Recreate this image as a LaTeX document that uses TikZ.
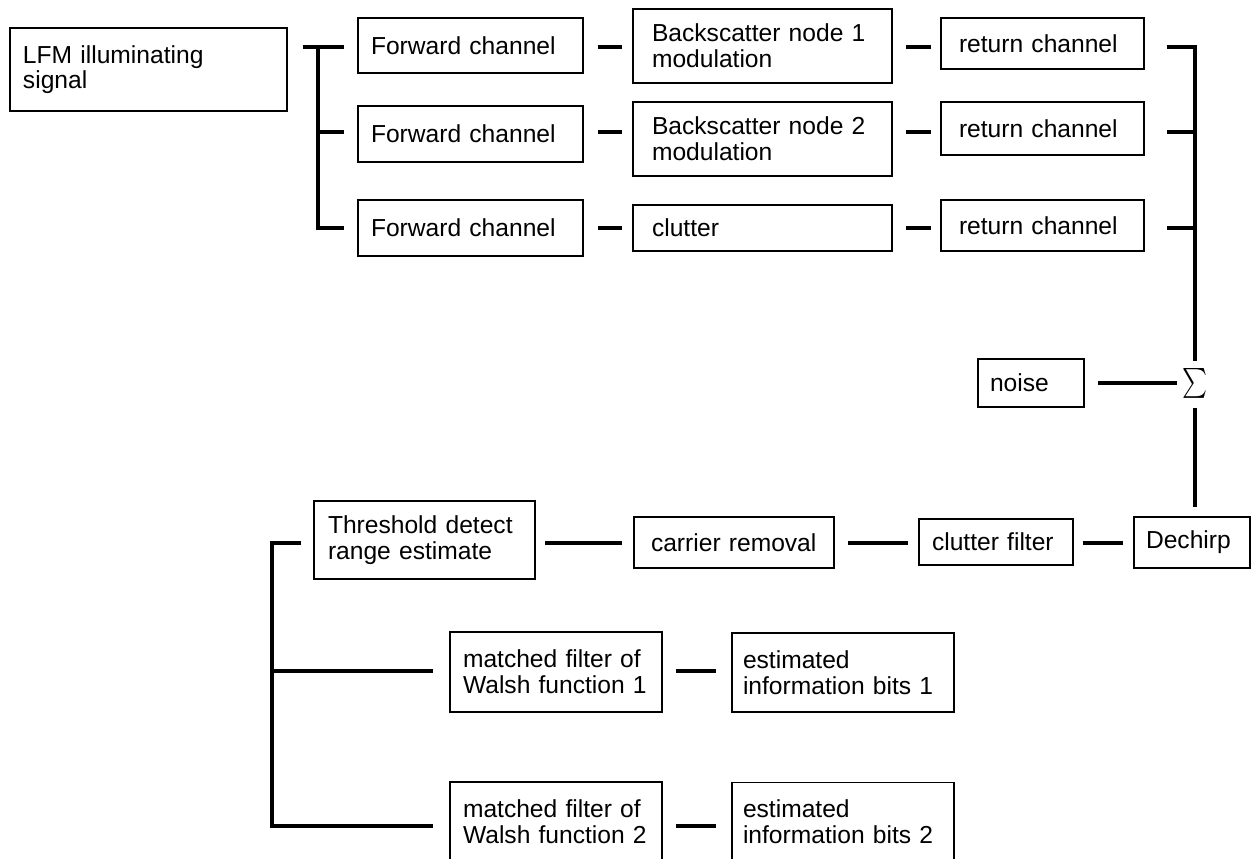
\documentclass[tikz,border=0pt]{standalone}
\usepackage{fontspec}
\setmainfont{Liberation Sans}
\usetikzlibrary{calc}
\tikzset{
  blk/.style={draw=black, line width=1.1pt, align=left, inner xsep=2.6mm, inner ysep=1mm, font=\fontsize{14}{14.6}\selectfont},
  wire/.style={draw=black, line width=2.6pt},
}

\begin{document}
\begin{tikzpicture}[x=0.2mm, y=-0.2mm]
  \useasboundingbox (0,0) rectangle (1256,859);
  % row levels
  \coordinate (r1) at (0,47);
  \coordinate (r2) at (0,132);
  \coordinate (r3) at (0,228);
  \coordinate (r4) at (0,543);
  \coordinate (r5) at (0,671);
  \coordinate (r6) at (0,826);
  \coordinate (split) at (318,47);
  \coordinate (split2) at (272,543);

  % transmit side
  \node[blk, text width=50.2mm, minimum height=16.6mm] (lfm) at (148.5,69.5) {LFM illuminating\\signal};
  \node[blk, text width=39.8mm, minimum height=11.1mm] (fw1) at (470.5,45.5) {Forward channel};
  \node[blk, text width=39.8mm, minimum height=11.2mm] (fw2) at (470.5,134) {Forward channel};
  \node[blk, text width=39.8mm, minimum height=11.2mm] (fw3) at (470.5,228) {Forward channel};
  \node[blk, inner xsep=3.8mm, text width=44.2mm, minimum height=14.8mm] (mid1) at (762.5,46) {Backscatter node 1\\modulation};
  \node[blk, inner xsep=3.8mm, text width=44.2mm, minimum height=14.8mm] (mid2) at (762.5,139) {Backscatter node 2\\modulation};
  \node[blk, inner xsep=3.8mm, text width=44.2mm, minimum height=9.2mm] (mid3) at (762.5,228) {clutter};
  \node[blk, inner xsep=3.6mm, text width=33.4mm, minimum height=10.2mm] (rc1) at (1042.5,43.5) {return channel};
  \node[blk, inner xsep=3.6mm, text width=33.4mm, minimum height=10.6mm] (rc2) at (1042.5,128.5) {return channel};
  \node[blk, inner xsep=3.6mm, text width=33.4mm, minimum height=10.2mm] (rc3) at (1042.5,225.5) {return channel};

  % summing point
  \node[blk, inner xsep=2.4mm, text width=16.4mm, minimum height=9.6mm] (noise) at (1031,383) {noise};
  \node[xscale=1.35, yscale=1.7, inner sep=0pt] (sum) at (1195,383) {$\sum$};

  % receive side
  \node[blk, inner xsep=2.4mm, text width=18.4mm, minimum height=10.2mm] (dech) at (1192,542.5) {Dechirp};
  \node[blk, text width=25.6mm, minimum height=9.2mm] (cf) at (996,542) {clutter filter};
  \node[blk, inner xsep=3.4mm, text width=33.2mm, minimum height=10.2mm] (car) at (734,542.5) {carrier removal};
  \node[blk, inner xsep=2.8mm, text width=38.6mm, minimum height=15.6mm] (thr) at (424.5,540) {Threshold detect\\range estimate};
  \node[blk, text width=37.2mm, minimum height=16mm] (mf1) at (556,672) {matched filter of\\Walsh function 1};
  \node[blk, text width=37.2mm, minimum height=16mm] (mf2) at (556,822) {matched filter of\\Walsh function 2};
  \node[blk, inner xsep=2.2mm, text width=40mm, minimum height=15.8mm] (est1) at (843,672.5) {estimated\\information bits 1};
  \node[blk, inner xsep=2.2mm, text width=40mm, minimum height=15.8mm] (est2) at (843,822) {estimated\\information bits 2};

  % fan out
  \draw[wire] ([xshift=3mm]lfm.east |- r1) -- ([xshift=-2.6mm]fw1.west |- r1);
  \draw[wire] (split) |- ([xshift=-2.6mm]fw3.west |- r3);
  \draw[wire] (split |- r2) -- ([xshift=-2.6mm]fw2.west |- r2);
  \draw[wire] ([xshift=2.8mm]fw1.east |- r1) -- ([xshift=-2mm]mid1.west |- r1);
  \draw[wire] ([xshift=2.8mm]fw2.east |- r2) -- ([xshift=-2mm]mid2.west |- r2);
  \draw[wire] ([xshift=2.8mm]fw3.east |- r3) -- ([xshift=-2mm]mid3.west |- r3);
  \draw[wire] ([xshift=2.6mm]mid1.east |- r1) -- ([xshift=-1.8mm]rc1.west |- r1);
  \draw[wire] ([xshift=2.6mm]mid2.east |- r2) -- ([xshift=-1.8mm]rc2.west |- r2);
  \draw[wire] ([xshift=2.6mm]mid3.east |- r3) -- ([xshift=-1.8mm]rc3.west |- r3);

  % fan in
  \draw[wire] ([xshift=4.4mm]rc1.east |- r1) -| ([yshift=1.2mm]sum.north);
  \draw[wire] ([xshift=4.4mm]rc2.east |- r2) -- (sum |- r2);
  \draw[wire] ([xshift=4.4mm]rc3.east |- r3) -- (sum |- r3);
  \draw[wire] ([xshift=2.6mm]noise.east) -- ([xshift=-1mm]sum.west);
  \draw[wire] ([yshift=-1.8mm]sum.south) -- ([yshift=1.8mm]dech.north -| sum.south);

  % receiver chain
  \draw[wire] ([xshift=-2mm]dech.west |- r4) -- ([xshift=1.8mm]cf.east |- r4);
  \draw[wire] ([xshift=-2mm]cf.west |- r4) -- ([xshift=2.6mm]car.east |- r4);
  \draw[wire] ([xshift=-2.2mm]car.west |- r4) -- ([xshift=1.8mm]thr.east |- r4);
  \draw[wire] ([xshift=-2.4mm]thr.west |- r4) -- (split2) |- ([xshift=-3.2mm]mf2.west |- r6);
  \draw[wire] (split2 |- r5) -- ([xshift=-3.2mm]mf1.west |- r5);
  \draw[wire] ([xshift=2.6mm]mf1.east |- r5) -- ([xshift=-3mm]est1.west |- r5);
  \draw[wire] ([xshift=2.6mm]mf2.east |- r6) -- ([xshift=-3mm]est2.west |- r6);
\end{tikzpicture}
\end{document}
